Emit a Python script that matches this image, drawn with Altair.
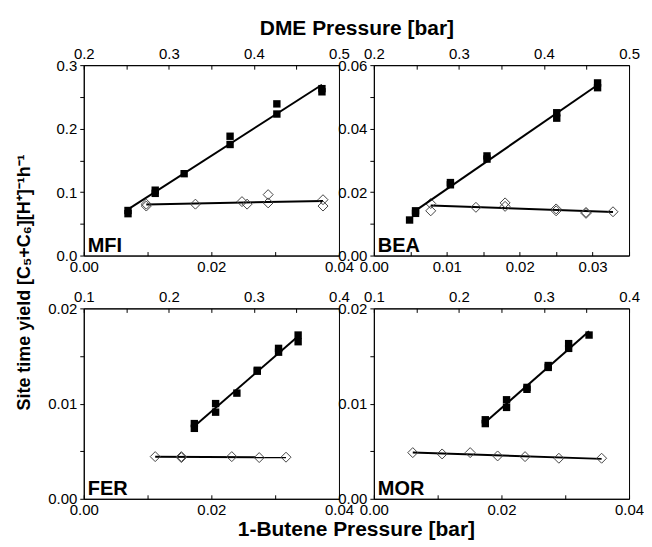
import altair as alt
import pandas as pd

FONT = "Liberation Sans"
PANEL_W = 256
PANEL_H = 191
GAP_X = 35
GAP_Y = 53

# ---------------- data ----------------
# MFI
MFI_DME = [0.252, 0.252, 0.284, 0.284, 0.318, 0.372, 0.372, 0.427, 0.427, 0.480, 0.480]
MFI_DME_STY = [0.071, 0.066, 0.103, 0.098, 0.129, 0.188, 0.175, 0.239, 0.223, 0.263, 0.258]
MFI_C4 = [0.0098, 0.0098, 0.0175, 0.0248, 0.0256, 0.0289, 0.0289, 0.0375, 0.0375]
MFI_C4_STY = [0.081, 0.078, 0.081, 0.085, 0.081, 0.096, 0.083, 0.088, 0.078]

# BEA
BEA_DME = [0.242, 0.249, 0.249, 0.290, 0.290, 0.333, 0.333, 0.415, 0.415, 0.463, 0.463]
BEA_DME_STY = [0.0112, 0.0133, 0.0141, 0.0230, 0.0223, 0.0314, 0.0304, 0.0450, 0.0433, 0.0544, 0.0529]
BEA_C4 = [0.0078, 0.0078, 0.0140, 0.0180, 0.0180, 0.0250, 0.0250, 0.0291, 0.0291, 0.0328]
BEA_C4_STY = [0.0164, 0.0141, 0.0152, 0.0166, 0.0155, 0.0147, 0.0141, 0.0136, 0.0133, 0.0138]

# FER
FER_DME = [0.230, 0.230, 0.255, 0.255, 0.280, 0.304, 0.304, 0.329, 0.329, 0.352, 0.352]
FER_DME_STY = [0.0079, 0.0074, 0.0100, 0.0091, 0.0111, 0.0134, 0.0135, 0.0158, 0.0154, 0.0172, 0.0165]
FER_C4 = [0.0112, 0.0153, 0.0153, 0.0232, 0.0275, 0.0317]
FER_C4_STY = [0.00443, 0.00433, 0.00443, 0.00443, 0.00433, 0.00437]

# MOR
MOR_DME = [0.231, 0.231, 0.256, 0.256, 0.280, 0.280, 0.305, 0.305, 0.329, 0.329, 0.353]
MOR_DME_STY = [0.0083, 0.0079, 0.0104, 0.0096, 0.0117, 0.0115, 0.0140, 0.0138, 0.0163, 0.0158, 0.0172]
MOR_C4 = [0.0061, 0.0107, 0.0151, 0.0194, 0.0237, 0.0290, 0.0357]
MOR_C4_STY = [0.00485, 0.00471, 0.00485, 0.00450, 0.00443, 0.00426, 0.00426]

# ---------------- axis ticks ----------------
Y_TICKS_MFI = [0.0, 0.05, 0.1, 0.15, 0.2, 0.25, 0.3]
Y_TICKS_BEA = [0.0, 0.01, 0.02, 0.03, 0.04, 0.05, 0.06]
Y_TICKS_SMALL = [0.0, 0.005, 0.01, 0.015, 0.02]
DME_TICKS_HIGH = [0.2, 0.25, 0.3, 0.35, 0.4, 0.45, 0.5]
DME_TICKS_LOW = [0.1, 0.15, 0.2, 0.25, 0.3, 0.35, 0.4]
C4_TICKS = [0.0, 0.01, 0.02, 0.03, 0.04]
C4_TICKS_BEA = [0.0, 0.005, 0.01, 0.015, 0.02, 0.025, 0.03, 0.035]

Y_TITLE = "Site time yield [C\u2085+C\u2086][H\u207a]\u207b\u00b9h\u207b\u00b9"
TOP_TITLE = "DME Pressure [bar]"
BOTTOM_TITLE = "1-Butene Pressure [bar]"


def label_expr(step, fmt):
    return (f"abs(datum.value/{step} - round(datum.value/{step})) < 0.001 "
            f"? format(datum.value, '{fmt}') : ''")


def make_axis(orient, ticks, step, fmt, title=None, **kw):
    args = dict(orient=orient, values=ticks, labelExpr=label_expr(step, fmt),
                labelFlush=False, labelOverlap=False, grid=False)
    if orient in ("top", "bottom"):
        args.update(tickSize={"expr": "-4"}, labelPadding=8)
    else:
        args.update(tickSize=4, labelPadding=3)
    args.update(kw)
    return alt.Axis(title=title, **args)


def panel(name, dme, dme_sty, c4, c4_sty, y_ticks, y_step, y_fmt,
          dme_ticks, c4_ticks, c4_step, c4_fmt,
          y_title=False, top_title=False, bottom_title=False, dme_fit=None):
    df_sq = pd.DataFrame({"DME": dme, "STY": dme_sty})
    df_di = pd.DataFrame({"C4": c4, "STY": c4_sty})

    if y_title:
        yax = make_axis("left", y_ticks, y_step, y_fmt, title=Y_TITLE,
                        titleX=-50, titleY=PANEL_H + GAP_Y / 2, titleFontSize=18)
    else:
        yax = make_axis("left", y_ticks, y_step, y_fmt)
    yenc = alt.Y("STY:Q", scale=alt.Scale(domain=[y_ticks[0], y_ticks[-1]], nice=False, zero=False),
                 axis=yax)

    if top_title:
        tax = make_axis("top", dme_ticks, 0.1, ".1f", title=TOP_TITLE,
                        titleX=PANEL_W + GAP_X / 2, titleY=-26.5)
    else:
        tax = make_axis("top", dme_ticks, 0.1, ".1f")
    xtop = alt.X("DME:Q", scale=alt.Scale(domain=[dme_ticks[0], dme_ticks[-1]], nice=False, zero=False),
                 axis=tax)

    bax = make_axis("bottom", c4_ticks, c4_step, c4_fmt)
    xbot = alt.X("C4:Q", scale=alt.Scale(domain=[c4_ticks[0], c4_ticks[-1]], nice=False, zero=False),
                 axis=bax)

    sq = alt.Chart(df_sq).mark_square(size=55, color="black", opacity=1).encode(x=xtop, y=yenc)
    if dme_fit is None:
        dme_fit = [min(dme), max(dme)]
    sq_fit = (alt.Chart(df_sq)
              .transform_regression(on="DME", regression="STY", extent=dme_fit)
              .mark_line(color="black", strokeWidth=2)
              .encode(x=xtop, y=yenc))
    di = alt.Chart(df_di).mark_point(shape="diamond", filled=False, size=100,
                                     color="#444", strokeWidth=1, opacity=1).encode(x=xbot, y=yenc)
    di_fit = (alt.Chart(df_di)
              .transform_regression(on="C4", regression="STY")
              .mark_line(color="black", strokeWidth=2)
              .encode(x=xbot, y=yenc))
    lab = (alt.Chart(pd.DataFrame({"t": [name]}))
           .mark_text(align="left", baseline="alphabetic", fontSize=20, fontWeight="bold",
                      font=FONT, color="black")
           .encode(x=alt.value(4), y=alt.value(PANEL_H - 3.5), text="t:N"))

    layers = [alt.layer(di_fit, di), alt.layer(sq_fit, sq), lab]
    if bottom_title:
        btitle = (alt.Chart(pd.DataFrame({"t": [BOTTOM_TITLE]}))
                  .mark_text(align="center", baseline="alphabetic", fontSize=21,
                             fontWeight="bold", font=FONT, color="black")
                  .encode(x=alt.value(PANEL_W + GAP_X / 2), y=alt.value(PANEL_H + 37),
                          text="t:N"))
        layers.append(btitle)
    return (alt.layer(*layers)
            .resolve_scale(x="independent")
            .properties(width=PANEL_W, height=PANEL_H))


mfi = panel("MFI", MFI_DME, MFI_DME_STY, MFI_C4, MFI_C4_STY, Y_TICKS_MFI, 0.1, ".1f",
            DME_TICKS_HIGH, C4_TICKS, 0.02, ".2f", y_title=True, top_title=True)
bea = panel("BEA", BEA_DME, BEA_DME_STY, BEA_C4, BEA_C4_STY, Y_TICKS_BEA, 0.02, ".2f",
            DME_TICKS_HIGH, C4_TICKS_BEA, 0.01, ".2f", dme_fit=[BEA_DME[1], BEA_DME[-1]])
fer = panel("FER", FER_DME, FER_DME_STY, FER_C4, FER_C4_STY, Y_TICKS_SMALL, 0.01, ".2f",
            DME_TICKS_LOW, C4_TICKS, 0.02, ".2f", bottom_title=True)
mor = panel("MOR", MOR_DME, MOR_DME_STY, MOR_C4, MOR_C4_STY, Y_TICKS_SMALL, 0.01, ".2f",
            DME_TICKS_LOW, C4_TICKS, 0.02, ".2f")

chart = (alt.concat(mfi, bea, fer, mor, columns=2,
                    spacing={"row": GAP_Y, "column": GAP_X}, bounds="flush")
         .properties(padding={"left": 7, "top": 8.5, "right": -1, "bottom": -2})
         .configure_view(stroke="black", strokeWidth=1)
         .configure_axis(labelFont=FONT, labelFontSize=15, labelColor="black",
                         titleFont=FONT, titleFontSize=21, titleFontWeight="bold",
                         titleColor="black", domainColor="black", tickColor="black",
                         domainWidth=1, tickWidth=1))

chart.save("out.html", embed_options={"renderer": "svg", "actions": False})
